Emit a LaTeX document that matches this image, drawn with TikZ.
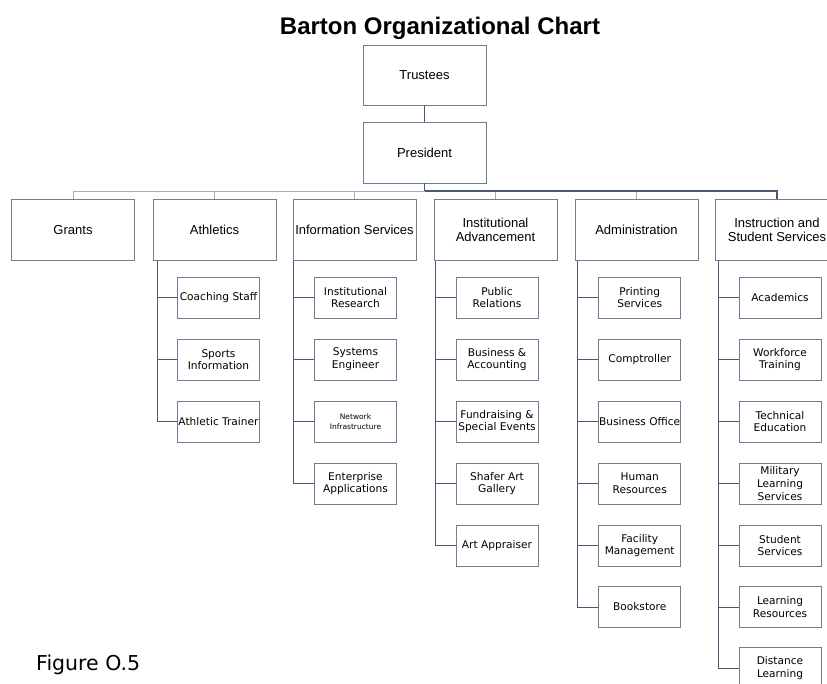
\documentclass[tikz,border=0pt]{standalone}
\usepackage{fontspec}
\setmainfont{DejaVu Sans}
\newfontfamily\headfont{Liberation Sans}
\usetikzlibrary{calc}
\definecolor{linkdark}{HTML}{4A5872}
\definecolor{linklight}{HTML}{A3ADBF}
\definecolor{boxline}{HTML}{6F7C94}
\newcommand{\netfont}{\fontsize{7.5}{10}\selectfont}
\tikzset{
	office/.style={draw=boxline, line width=0.9pt, minimum width=123pt, minimum height=61pt, inner sep=1pt, align=center, font=\headfont\fontsize{13}{14}\selectfont},
	unit/.style={draw=boxline, line width=0.9pt, minimum width=82pt, minimum height=41pt, inner sep=0pt, align=center, font=\fontsize{10.6}{12.7}\selectfont},
	link/.style={draw=linkdark, line width=0.9pt},
	buslink/.style={draw=linklight, line width=0.9pt}
}
\newcommand{\subunit}[6] % parent, spine offset in pt, name, x, y, text
{
	% box
	\node[unit] (#3) at (#4,#5) {#6};
	% spine down the parent and branch to the box
	\draw[link] ([xshift=#2pt]#1.south west) |- (#3.west);
}

\begin{document}
\begin{tikzpicture}[x=1pt, y=-1pt]
	% page: 827 x 683, y runs down
	\useasboundingbox (0,0) rectangle (827,683);
	\node[anchor=base, font=\headfont\bfseries\fontsize{24}{28}\selectfont] (title) at (440,34) {Barton Organizational Chart};
	
	\node[office, minimum height=60pt] (trustees) at (424.5,75) {Trustees};
	\node[office] (pres) at (424.5,152.5) {President};
	\draw[link] (trustees) -- (pres);
	
	% top level
	\node[office] (grants) at (73,230) {Grants};
	\node[office] (ath) at (214.5,230) {Athletics};
	\node[office] (info) at (354.5,230) {Information Services};
	\node[office] (adv) at (495.5,230) {Institutional\\Advancement};
	\node[office] (admin) at (636.5,230) {Administration};
	\node[office] (iss) at (777,230) {Instruction and\\Student Services};
	
	\coordinate (bus) at (424.5,191);
	\draw[link] (pres.south) -- (bus);
	\draw[buslink] (grants.north) |- (bus);
	\draw[buslink] (ath.north) |- (bus);
	\draw[buslink] (info.north) |- (bus);
	\draw[buslink] (adv.north) -- (adv.north |- bus);
	\draw[buslink] (admin.north) -- (admin.north |- bus);
	\draw[link, line width=1.4pt] (bus) -| (iss.north);
	
	% athletics
	\subunit{ath}{4.5}{coach}{218.5}{297.5}{Coaching Staff}
	\subunit{ath}{4.5}{sports}{218.5}{359.5}{Sports\\Information}
	\subunit{ath}{4.5}{trainer}{218.5}{421.5}{Athletic Trainer}
	
	% information services
	\subunit{info}{1}{research}{355.5}{297.5}{Institutional\\Research}
	\subunit{info}{1}{syseng}{355.5}{359.5}{Systems\\Engineer}
	\subunit{info}{1}{network}{355.5}{421.5}{\netfont Network\\[-3pt]\netfont Infrastructure}
	\subunit{info}{1}{enterprise}{355.5}{483.5}{Enterprise\\Applications}
	
	% institutional advancement
	\subunit{adv}{1.5}{pubrel}{497}{297.5}{Public\\Relations}
	\subunit{adv}{1.5}{busacc}{497}{359.5}{Business \&\\Accounting}
	\subunit{adv}{1.5}{fundraising}{497}{421.5}{Fundraising \&\\Special Events}
	\subunit{adv}{1.5}{gallery}{497}{483.5}{Shafer Art\\Gallery}
	\subunit{adv}{1.5}{appraiser}{497}{545.5}{Art Appraiser}
	
	% administration
	\subunit{admin}{2.8}{printing}{639.7}{297.5}{Printing\\Services}
	\subunit{admin}{2.8}{comptroller}{639.7}{359.5}{Comptroller}
	\subunit{admin}{2.8}{busoffice}{639.7}{421.5}{Business Office}
	\subunit{admin}{2.8}{hr}{639.7}{483.5}{Human\\Resources}
	\subunit{admin}{2.8}{facility}{639.7}{545.5}{Facility\\Management}
	\subunit{admin}{2.8}{bookstore}{639.7}{607}{Bookstore}
	
	% instruction and student services
	\subunit{iss}{3.5}{academics}{780}{297.5}{Academics}
	\subunit{iss}{3.5}{workforce}{780}{359.5}{Workforce\\Training}
	\subunit{iss}{3.5}{technical}{780}{421.5}{Technical\\Education}
	\subunit{iss}{3.5}{military}{780}{483.5}{Military\\Learning\\Services}
	\subunit{iss}{3.5}{students}{780}{545.5}{Student\\Services}
	\subunit{iss}{3.5}{learning}{780}{607}{Learning\\Resources}
	\subunit{iss}{3.5}{distance}{780}{668}{Distance\\Learning}
	
	\node[anchor=base west, inner sep=0pt, font=\fontsize{20.5}{24}\selectfont] (fig) at (36,670) {Figure O.5};
\end{tikzpicture}
\end{document}
